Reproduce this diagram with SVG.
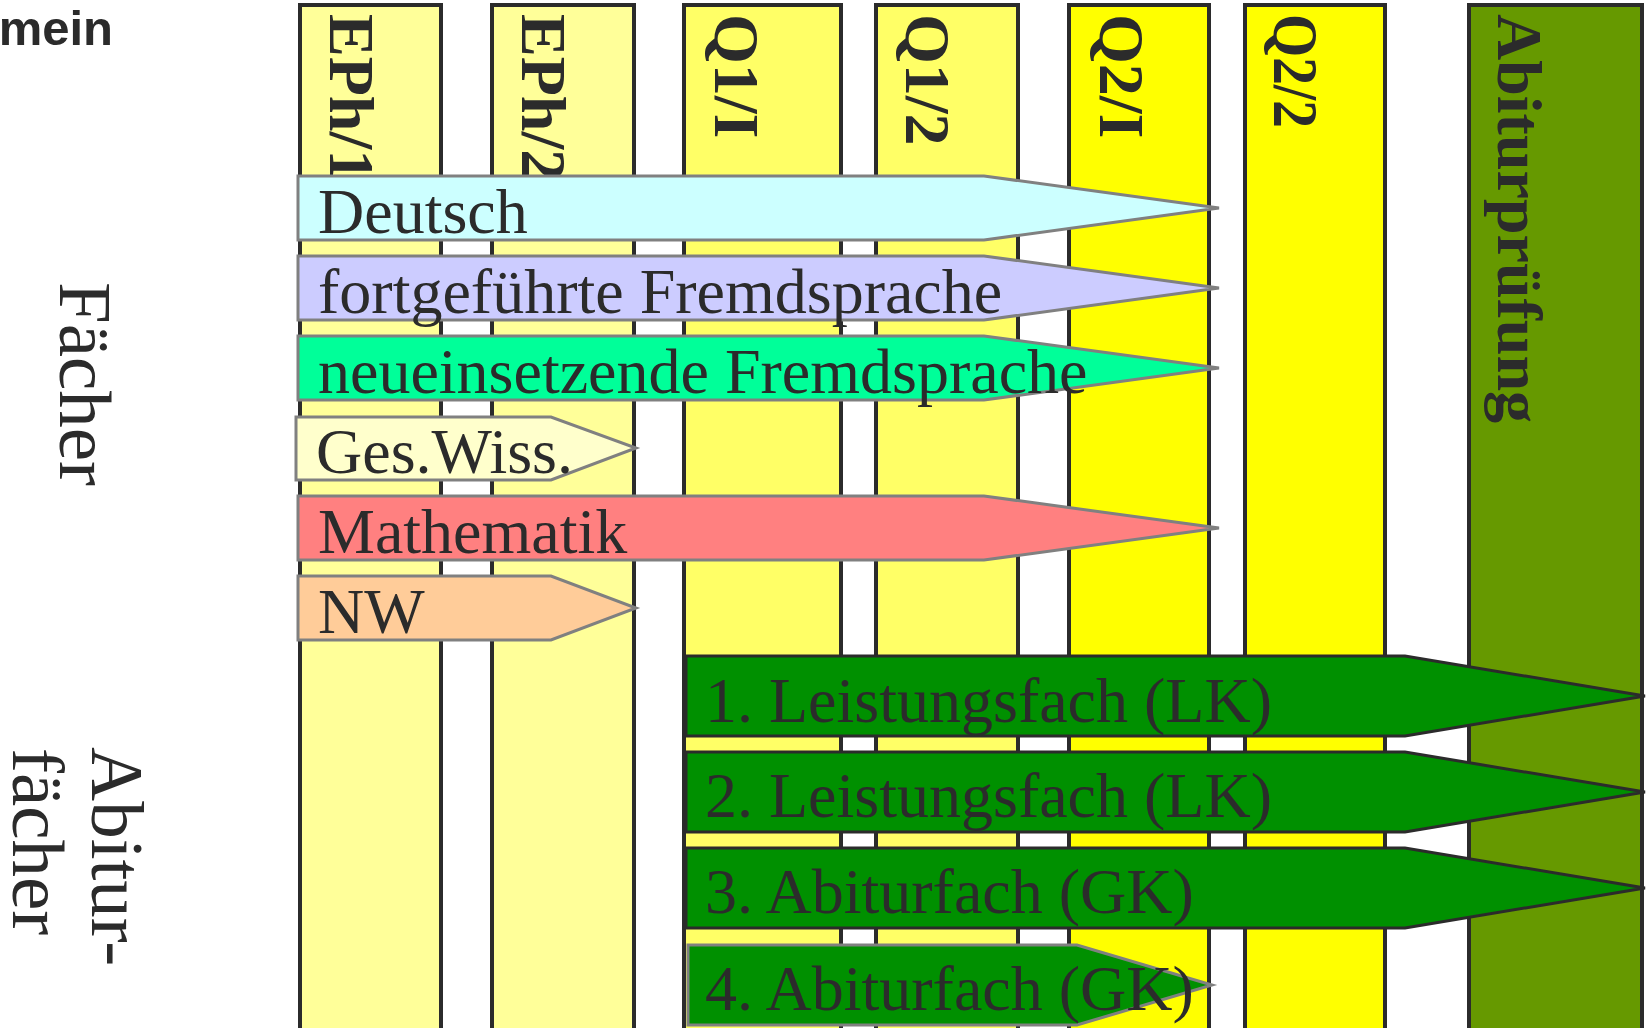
<svg xmlns="http://www.w3.org/2000/svg" width="1650" height="1028" viewBox="0 0 1650 1028">
<style>
.col{stroke:#2b2b2b;stroke-width:4}
.eph{fill:#FFFF99}
.q1{fill:#FFFF66}
.q2{fill:#FFFF00}
.abi{fill:#669900}
.hdr{font-family:"Liberation Serif","Times New Roman",serif;font-weight:bold;font-size:64px;fill:#2b2b2b}
.side{font-family:"Liberation Serif","Times New Roman",serif;font-size:75px;fill:#2b2b2b}
.arr{stroke:#808080;stroke-width:3;stroke-linejoin:miter}
.garr{fill:#009000;stroke:#2b2b2b;stroke-width:3}
.lbl{font-family:"Liberation Serif","Times New Roman",serif;font-size:64px;fill:#2b2b2b}
.mein{font-family:"Liberation Sans",Arial,sans-serif;font-weight:bold;font-size:49px;fill:#2b2b2b}
</style>
<rect x="0" y="0" width="1650" height="1028" fill="#ffffff"/>

<g id="label-mein"><text class="mein" x="113" y="45" text-anchor="end">mein</text></g>
<g id="label-faecher"><text class="side" transform="translate(60,282) rotate(90)">Fächer</text></g>
<g id="label-abiturfaecher">
<text class="side" transform="translate(92,747) rotate(90)">Abitur-</text>
<text class="side" transform="translate(13,748) rotate(90)">fächer</text>
</g>

<g id="col-eph1"><rect class="col eph" x="300" y="5" width="141" height="1040"/><text class="hdr" transform="translate(330,14) rotate(90)">EPh/1</text></g>
<g id="col-eph2"><rect class="col eph" x="492" y="5" width="142" height="1040"/><text class="hdr" transform="translate(522,14) rotate(90)">EPh/2</text></g>
<g id="col-q11"><rect class="col q1" x="684" y="5" width="157" height="1040"/><text class="hdr" transform="translate(715,14) rotate(90)">Q1/I</text></g>
<g id="col-q12"><rect class="col q1" x="876" y="5" width="142" height="1040"/><text class="hdr" transform="translate(906,14) rotate(90)">Q1/2</text></g>
<g id="col-q21"><rect class="col q2" x="1069" y="5" width="140" height="1040"/><text class="hdr" transform="translate(1100,14) rotate(90)">Q2/I</text></g>
<g id="col-q22"><rect class="col q2" x="1245" y="5" width="140" height="1040"/><text class="hdr" transform="translate(1274,14) rotate(90)" textLength="114" lengthAdjust="spacingAndGlyphs">Q2/2</text></g>
<g id="col-abitur"><rect class="col abi" x="1469" y="5" width="173" height="1040"/><text class="hdr" transform="translate(1498,14) rotate(90)">Abiturprüfung</text></g>

<g id="arrow-deutsch"><polygon class="arr" fill="#CCFFFF" points="298,176 984,176 1219,208 984,240 298,240"/><text class="lbl" x="318" y="233">Deutsch</text></g>
<g id="arrow-fort"><polygon class="arr" fill="#CCCCFF" points="298,256 984,256 1219,288 984,320 298,320"/><text class="lbl" x="318" y="313">fortgeführte Fremdsprache</text></g>
<g id="arrow-neu"><polygon class="arr" fill="#00FF99" points="298,336 984,336 1219,368 984,400 298,400"/><text class="lbl" x="318" y="393">neueinsetzende Fremdsprache</text></g>
<g id="arrow-geswiss"><polygon class="arr" fill="#FFFFCC" points="296,417 551,417 636,448 551,480 296,480"/><text class="lbl" x="316" y="473">Ges.Wiss.</text></g>
<g id="arrow-mathe"><polygon class="arr" fill="#FF8080" points="298,496 984,496 1219,528 984,560 298,560"/><text class="lbl" x="318" y="553">Mathematik</text></g>
<g id="arrow-nw"><polygon class="arr" fill="#FFCC99" points="298,576 551,576 636,608 551,640 298,640"/><text class="lbl" x="318" y="633">NW</text></g>

<g id="arrow-lk1"><polygon class="garr" points="686,656 1405,656 1645,696 1405,736 686,736"/><text class="lbl" x="705" y="722">1. Leistungsfach (LK)</text></g>
<g id="arrow-lk2"><polygon class="garr" points="686,752 1405,752 1645,792 1405,832 686,832"/><text class="lbl" x="705" y="817">2. Leistungsfach (LK)</text></g>
<g id="arrow-gk3"><polygon class="garr" points="686,848 1405,848 1645,888 1405,928 686,928"/><text class="lbl" x="705" y="913">3. Abiturfach (GK)</text></g>
<g id="arrow-gk4"><polygon class="arr" fill="#009000" points="688,945 1077,945 1212,985 1077,1025 688,1025"/><text class="lbl" x="705" y="1010">4. Abiturfach (GK)</text></g>

<g id="connectors"/>
</svg>
